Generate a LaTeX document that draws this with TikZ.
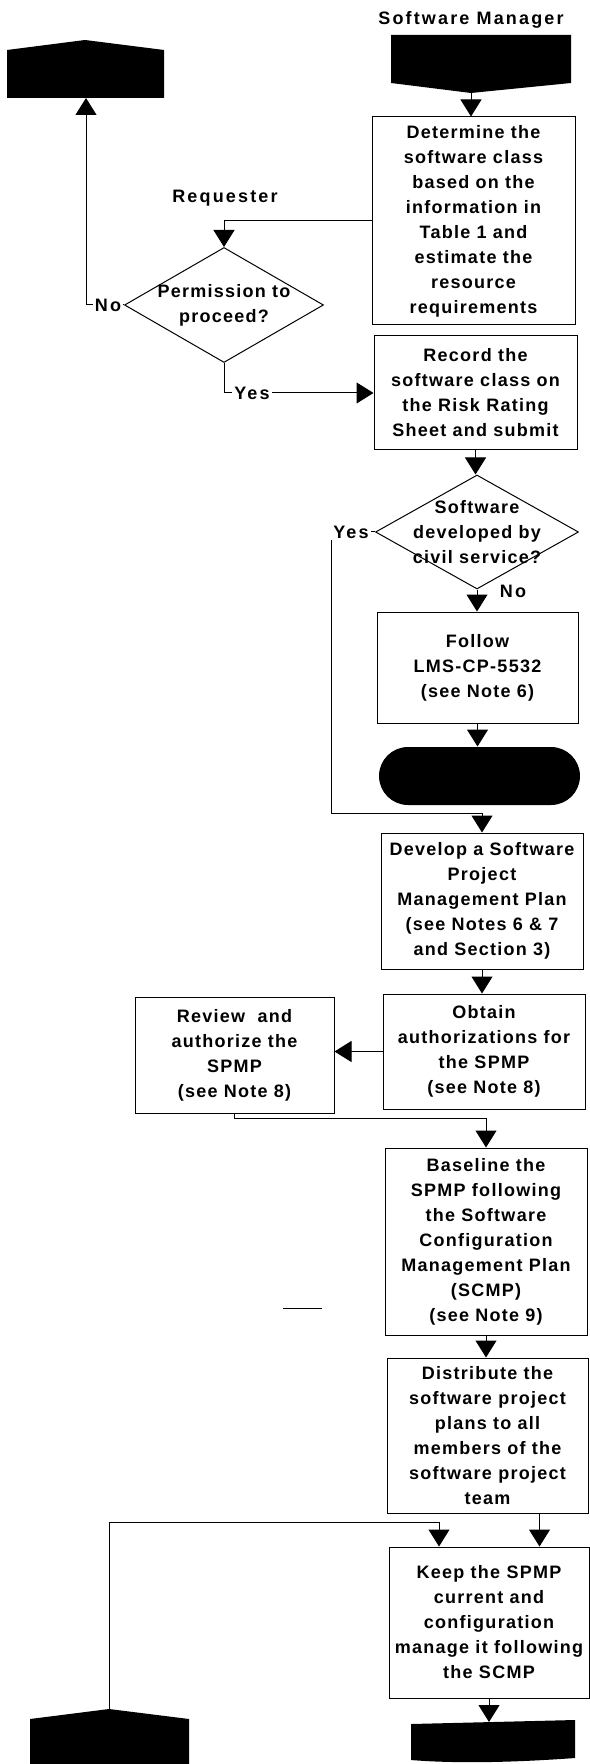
\documentclass[tikz,border=0pt]{standalone}
\usepackage{fontspec}
\newfontfamily\chartfont[LetterSpace=7]{Liberation Sans}
\newfontfamily\headfont[LetterSpace=12]{Liberation Sans}
\usetikzlibrary{arrows.meta,shapes.geometric}

\begin{document}
\begin{tikzpicture}[x=0.5pt, y=-0.5pt, >={Triangle[width=10.5pt,length=8.5pt]}, line width=0.5pt,
  txt/.style={font=\chartfont\bfseries\fontsize{9}{12.5}\selectfont, align=center},
  proc/.style 2 args={txt, rectangle, draw, inner sep=1pt, minimum width=#1, minimum height=#2},
  decide/.style 2 args={diamond, draw, inner sep=0pt, minimum width=#1, minimum height=#2},
  flow/.style={->},
  tag/.style={font=\headfont\bfseries\fontsize{9}{11}\selectfont, fill=white, inner sep=1pt}]
  \useasboundingbox (0,0) rectangle (589,1764);
  \node[tag] (mgrlbl) at (471,20) {Software Manager};
  \node[tag] (reqlbl) at (225,198) {Requester};
  \fill (7,50) -- (85,40) -- (164,50) -- (164,98) -- (7,98) -- cycle;
  \fill (391,35) -- (571,35) -- (571,83) -- (471,93) -- (391,83) -- cycle;
  \fill (30,1719) -- (109,1709) -- (189,1719) -- (189,1764) -- (30,1764) -- cycle;
  \fill (411,1724) -- (575,1720) -- (575,1758) .. controls (520,1762) and (460,1764) .. (411,1760) -- cycle;
  \coordinate (rejin) at (86,98);
  \coordinate (mgrout) at (471,93);
  \coordinate (retout) at (109,1709);
  \coordinate (endin) at (491,1722);
  \node[proc={101.5pt}{104pt}] (det) at (473.5,221) {Determine the\\software class\\based on the\\information in\\Table 1 and\\estimate the\\resource\\requirements};
  \node[decide={99.5pt}{57.5pt}, label={[txt]center:{Permission to\\proceed?}}] (perm) at (224,305) {};
  \node[proc={101.5pt}{57pt}] (rec) at (475.5,393) {Record the\\software class on\\the Risk Rating\\Sheet and submit};
  \node[decide={101.5pt}{57pt}, label={[txt]center:{Software\\developed by\\civil service?}}] (civ) at (477,532) {};
  \node[proc={100.5pt}{55.5pt}] (follow) at (477.5,667.5) {Follow\\LMS-CP-5532\\(see Note 6)};
  \node[fill, rounded corners=14.5pt, minimum width=100.5pt, minimum height=29pt] (term) at (479.5,776) {};
  \node[proc={101pt}{68pt}] (dev) at (482,901) {Develop a Software\\Project\\Management Plan\\(see Notes 6 \& 7\\and Section 3)};
  \node[proc={101pt}{57.5pt}] (obt) at (484,1051.5) {Obtain\\authorizations for\\the SPMP\\(see Note 8)};
  \node[proc={99.5pt}{58pt}] (rev) at (234.5,1055) {Review~~and\\authorize the\\SPMP\\(see Note 8)};
  \node[proc={101pt}{93.5pt}] (base) at (486,1241.5) {Baseline the\\SPMP following\\the Software\\Configuration\\Management Plan\\(SCMP)\\(see Note 9)};
  \node[proc={100.5pt}{77.5pt}] (dist) at (487.5,1435.5) {Distribute the\\software project\\plans to all\\members of the\\software project\\team};
  \node[proc={100pt}{75.5pt}] (keep) at (489,1622.5) {Keep the SPMP\\current and\\configuration\\manage it following\\the SCMP};
  \draw[flow] (mgrout) -- (mgrout |- det.north);
  \draw[flow] (det.west) -| (perm.north);
  \draw[flow] (perm.west) -| (rejin);
  \node[tag] (nolbl) at (108,305) {No};
  \draw[flow] (perm.south) |- (rec.west);
  \node[tag] (yeslbl) at (252,393) {Yes};
  \foreach \a/\b in {rec/civ,civ/follow,follow/term,dev/obt,base/dist}
    \draw[flow] (\a.south) -- (\a.south |- \b.north);
  \coordinate (yesturn) at (331,813);
  \draw[flow] (civ.west) -| (yesturn) -| (dev.north);
  \node[tag] (yes2lbl) at (351,532) {Yes};
  \node[tag, fill=none] (no2lbl) at (513,591) {No};
  \draw[flow] (obt.west) -- (obt.west -| rev.east);
  \draw[flow] (rev.south) -- ++(0,5) -| (base.north);
  \draw[flow] ([xshift=26pt]dist.south) -- ([xshift=26pt]dist.south |- keep.north);
  \coordinate (retturn) at (439,1522);
  \draw[flow] (retout) |- (retturn) -- (retturn |- keep.north);
  \draw[flow] (keep.south) -- (keep.south |- endin);
  \draw (283,1308) -- (322,1308);
\end{tikzpicture}
\end{document}
